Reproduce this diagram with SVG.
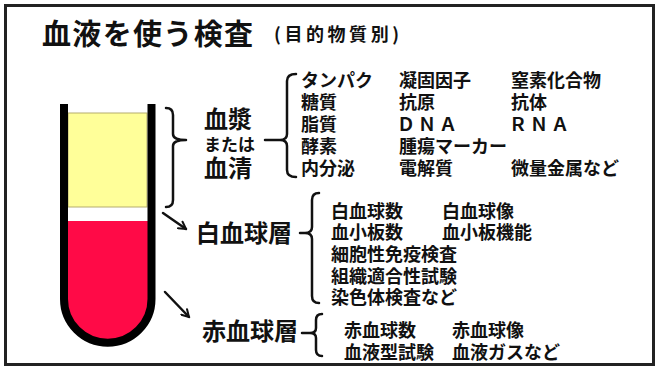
<svg xmlns="http://www.w3.org/2000/svg" width="656" height="367" viewBox="0 0 656 367">
  <style>
    .t { font-family: "Noto Sans CJK JP", "Noto Sans", sans-serif; font-weight: 700; fill: #111; }
    .item { font-size: 18px; }
    .label { font-size: 24px; }
    .ln { fill: none; stroke: #111; stroke-width: 2.5; stroke-linecap: round; stroke-linejoin: round; }
  </style>
  <defs>
    <marker id="arrow" viewBox="0 0 10 10" refX="8" refY="5" markerWidth="4" markerHeight="4" orient="auto" markerUnits="strokeWidth">
      <path d="M1,1 L8,5 L1,9" fill="none" stroke="#111" stroke-width="2" stroke-linecap="round" stroke-linejoin="round"/>
    </marker>
  </defs>

  <rect x="0" y="0" width="656" height="367" fill="#fff"/>
  <!-- frame -->
  <rect x="5.5" y="5.5" width="648" height="359" fill="none" stroke="#222" stroke-width="3"/>

  <!-- title -->
  <g id="title">
    <text class="t" x="42" y="45" font-size="29" textLength="211">血液を使う検査</text>
    <text class="t" x="274" y="41" font-size="18" textLength="125">(目的物質別)</text>
  </g>

  <!-- test tube -->
  <g id="tube">
    <rect x="68" y="113" width="79" height="94" fill="#ffff99" stroke="#b5ad6e" stroke-width="1"/>
    <path d="M64,221 V299 A43.75,43.75 0 0 0 151.5,299 V221 Z" fill="#ff0a47"/>
    <path d="M64,104 V299 A43.75,43.75 0 0 0 151.5,299 V104" fill="none" stroke="#000" stroke-width="8"/>
  </g>

  <!-- plasma / serum -->
  <g id="plasma">
    <text class="t label" x="204" y="128">血漿</text>
    <text class="t" x="204" y="151" font-size="17">または</text>
    <text class="t label" x="204" y="177">血清</text>
  </g>

  <g id="plasma-items" class="t item">
    <text x="301" y="87">タンパク</text>
    <text x="399" y="87">凝固因子</text>
    <text x="511" y="87">窒素化合物</text>
    <text x="301" y="109">糖質</text>
    <text x="399" y="109">抗原</text>
    <text x="511" y="109">抗体</text>
    <text x="301" y="131">脂質</text>
    <text x="397" y="131" textLength="60">ＤＮＡ</text>
    <text x="509" y="131" textLength="60">ＲＮＡ</text>
    <text x="301" y="153">酵素</text>
    <text x="399" y="153">腫瘍マーカー</text>
    <text x="301" y="175">内分泌</text>
    <text x="399" y="175">電解質</text>
    <text x="511" y="175">微量金属など</text>
  </g>

  <!-- white cell layer -->
  <g id="wbc">
    <text class="t label" x="196" y="242">白血球層</text>
  </g>
  <g id="wbc-items" class="t item">
    <text x="331" y="218">白血球数</text>
    <text x="442" y="218">白血球像</text>
    <text x="331" y="239">血小板数</text>
    <text x="442" y="239">血小板機能</text>
    <text x="331" y="261">細胞性免疫検査</text>
    <text x="331" y="283">組織適合性試験</text>
    <text x="331" y="304">染色体検査など</text>
  </g>

  <!-- red cell layer -->
  <g id="rbc">
    <text class="t label" x="202" y="340">赤血球層</text>
  </g>
  <g id="rbc-items" class="t item">
    <text x="344" y="337">赤血球数</text>
    <text x="452" y="337">赤血球像</text>
    <text x="344" y="359">血液型試験</text>
    <text x="452" y="359">血液ガスなど</text>
  </g>

  <!-- braces and arrows -->
  <g id="connectors">
    <path class="ln" d="M166,108 Q173,108 173,115 V134 Q173,140 186,140 Q173,140 173,146 V200 Q173,207 166,207"/>
    <path class="ln" d="M265,140 H280 M296,74 Q287,74 287,81 V134 Q287,140 280,140 Q287,140 287,146 V170 Q287,177 296,177"/>
    <path class="ln" d="M300,233 H305 M319,193 Q312,193 312,200 V227 Q312,233 305,233 Q312,233 312,239 V296 Q312,303 319,303"/>
    <path class="ln" d="M302,333 H310 M322,314 Q316,314 316,320 V328 Q316,333 310,333 Q316,333 316,338 V350 Q316,356 322,356"/>
    <line class="ln" x1="163" y1="213" x2="186" y2="229" marker-end="url(#arrow)"/>
    <line class="ln" x1="165" y1="292" x2="189" y2="317" marker-end="url(#arrow)"/>
  </g>
</svg>
